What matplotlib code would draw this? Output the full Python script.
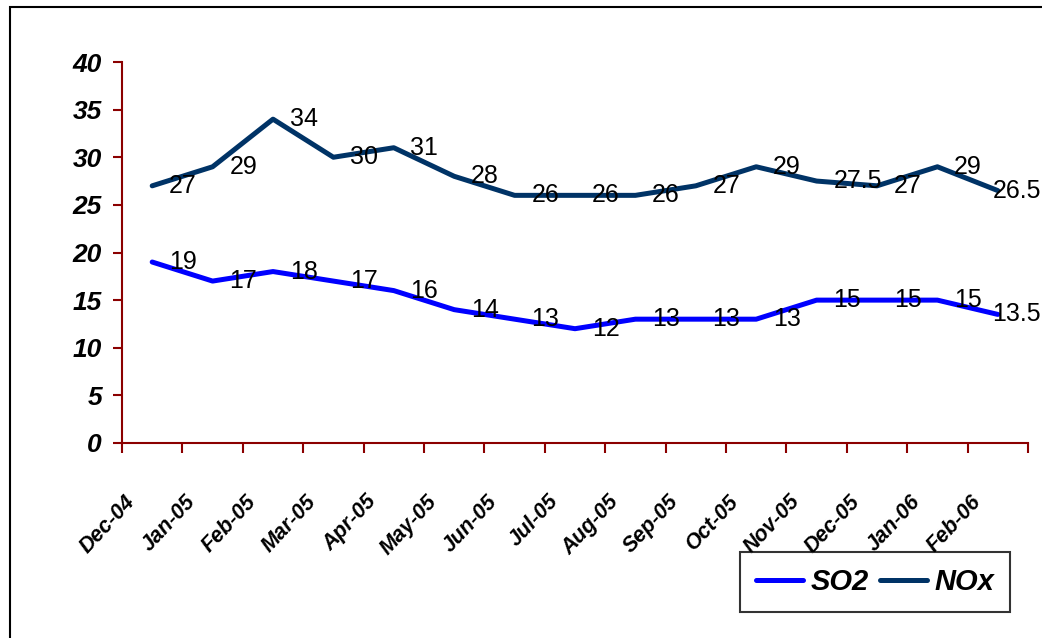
import matplotlib
matplotlib.use('Agg')
import matplotlib.pyplot as plt
import matplotlib.patches as patches
from matplotlib.transforms import ScaledTranslation

# monthly values
months = ['Dec-04', 'Jan-05', 'Feb-05', 'Mar-05', 'Apr-05', 'May-05', 'Jun-05', 'Jul-05',
          'Aug-05', 'Sep-05', 'Oct-05', 'Nov-05', 'Dec-05', 'Jan-06', 'Feb-06']
so2 = [19, 17, 18, 17, 16, 14, 13, 12, 13, 13, 13, 15, 15, 15, 13.5]
nox = [27, 29, 34, 30, 31, 28, 26, 26, 26, 27, 29, 27.5, 27, 29, 26.5]
y_ticks = [0, 5, 10, 15, 20, 25, 30, 35, 40]

plt.rcParams['font.family'] = ['Liberation Sans Narrow', 'Liberation Sans', 'DejaVu Sans']

W, H = 1042, 638
fig = plt.figure(figsize=(W / 100, H / 100), dpi=100)
ax = fig.add_axes([122 / W, 1 - 443 / H, (1028 - 122) / W, (443 - 62) / H])

axis_col = '#8B0000'
so2_col = '#0000FF'
nox_col = '#003366'

x = list(range(len(months)))
ax.plot(x, so2, color=so2_col, lw=3.6, solid_capstyle='round', label='SO2', clip_on=False)
ax.plot(x, nox, color=nox_col, lw=3.6, solid_capstyle='round', label='NOx', clip_on=False)

# data labels to the right of each point
labels = []
for series in (so2, nox):
    for i, v in enumerate(series):
        dx = 12 if i < len(series) - 1 else 2
        t = ax.annotate(f"{v:g}", (i, v), xytext=(dx, 0), textcoords='offset points',
                        ha='left', va='center', fontsize=18, annotation_clip=False)
        labels.append(t)

ax.set_xlim(-0.5, len(months) - 0.5)
ax.set_ylim(0, 40)

for s in ['top', 'right']:
    ax.spines[s].set_visible(False)
for s in ['left', 'bottom']:
    ax.spines[s].set_color(axis_col)
    ax.spines[s].set_linewidth(1.5)

ax.set_yticks(y_ticks)
ax.set_yticklabels([str(t) for t in y_ticks], fontsize=19, fontweight='bold', fontstyle='italic')
ax.tick_params(axis='y', direction='out', length=6.5, width=1.5, color=axis_col, pad=8)

# category boundaries carry the tick marks, centres carry the labels
ax.set_xticks([i - 0.5 for i in range(len(months) + 1)], minor=True)
ax.tick_params(axis='x', which='minor', direction='out', length=7, width=1.5, color=axis_col)
ax.set_xticks(x)
ax.set_xticklabels(months, fontsize=15.5, fontweight='bold', fontstyle='italic')
ax.tick_params(axis='x', which='major', length=0, pad=0)
offset = ScaledTranslation(-28 / 100, -48 / 100, fig.dpi_scale_trans)
for lab in ax.get_xticklabels():
    lab.set_rotation(47)
    lab.set_rotation_mode('anchor')
    lab.set_ha('right')
    lab.set_va('top')
    lab.set_transform(lab.get_transform() + offset)

leg = ax.legend(loc='lower right', bbox_to_anchor=(1010 / W, 1 - 612 / H),
                bbox_transform=fig.transFigure, ncol=2, frameon=True, fancybox=False,
                prop={'size': 21, 'weight': 'bold', 'style': 'italic'},
                handlelength=1.6, handletextpad=0.25, columnspacing=0.4,
                borderpad=0.55, borderaxespad=0)
leg.get_frame().set_edgecolor('black')
leg.get_frame().set_linewidth(1.5)

# keep the data labels inside the chart area, as the spreadsheet does
fig.canvas.draw()
renderer = fig.canvas.get_renderer()
for t in labels:
    bb = t.get_window_extent(renderer)
    if bb.x1 > W - 1:
        dx_pt, dy_pt = t.xyann
        t.xyann = (dx_pt - (bb.x1 - (W - 1)) * 72 / 100, dy_pt)

# outer chart border
fig.add_artist(patches.Rectangle((10 / W, -0.1), 1.2, 1.1 - 7 / H, transform=fig.transFigure,
                                 fill=False, edgecolor='black', lw=1.5))

fig.savefig('out.png', dpi=100)
